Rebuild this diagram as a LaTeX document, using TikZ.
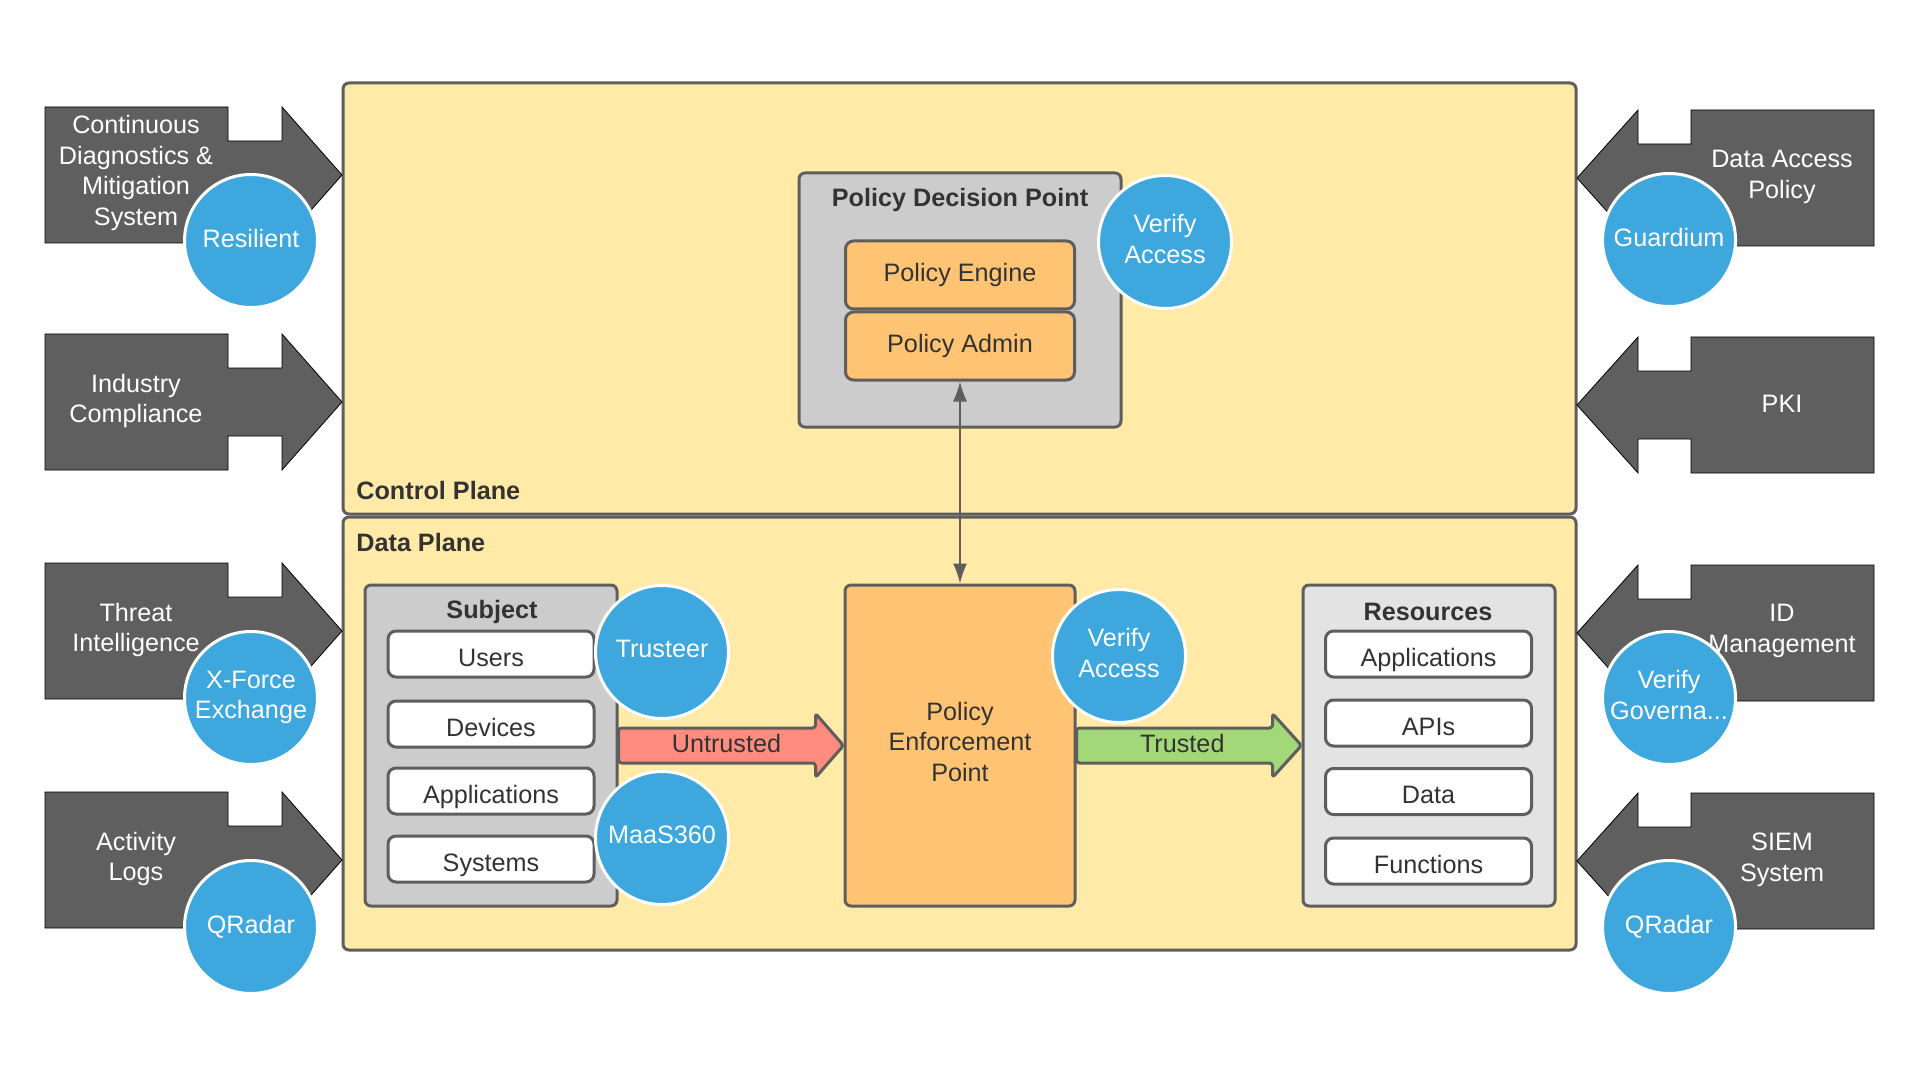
\documentclass[tikz,border=0pt]{standalone}
\usepackage{fontspec}
\setmainfont{Liberation Sans}
\usepackage{tikz}
\usetikzlibrary{arrows.meta}
\usetikzlibrary{calc}

\definecolor{planefill}{HTML}{FFEAA7}
\definecolor{edgegray}{HTML}{5E5E5E}
\definecolor{sidegray}{HTML}{5F5F5F}
\definecolor{toolblue}{HTML}{3DA7DE}
\definecolor{boxgray}{HTML}{CCCCCC}
\definecolor{resgray}{HTML}{E3E3E3}
\definecolor{enginefill}{HTML}{FFC374}
\definecolor{untrustfill}{HTML}{FF8C7E}
\definecolor{trustfill}{HTML}{A2D877}
\definecolor{textgray}{HTML}{333333}

\tikzset{
  basefont/.style={font=\fontsize{12.6}{15.25}\selectfont},
  plane/.style={draw=edgegray,fill=planefill,line width=1.5pt,rounded corners=3pt,inner sep=0pt,minimum width=616.5pt},
  planetitle/.style={font=\fontsize{12.6}{15.25}\selectfont\bfseries,text=textgray,anchor=west,inner sep=0pt},
  groupbox/.style={draw=edgegray,line width=1.5pt,rounded corners=3pt,inner sep=0pt},
  grouptitle/.style={font=\fontsize{12.6}{15.25}\selectfont\bfseries,text=textgray,inner sep=0pt},
  itembox/.style={draw=edgegray,fill=white,line width=1.5pt,rounded corners=4pt,inner sep=0pt,
    minimum width=103pt,minimum height=23pt,basefont,text=textgray,text height=12pt,text depth=0pt},
  enginebox/.style={draw=edgegray,fill=enginefill,line width=1.5pt,rounded corners=4pt,inner sep=0pt,
    minimum width=114.5pt,minimum height=34pt,basefont,text=textgray,align=center},
  sidearrow/.style={fill=sidegray},
  sidetext/.style={basefont,text=white,align=center,inner sep=0pt},
  tool/.style={circle,fill=toolblue,draw=white,line width=1.5pt,minimum size=66.5pt,inner sep=0pt,
    basefont,text=white,align=center,text depth=3pt},
  fatarrow/.style={draw=edgegray,line width=1.5pt,line join=round,rounded corners=1.5pt},
  fattext/.style={basefont,text=textgray,inner sep=0pt,text depth=2.5pt},
  link/.style={{Latex[length=10pt,width=7pt]}-{Latex[length=10pt,width=7pt]},draw=edgegray,line width=0.8pt}
}

\begin{document}
\begin{tikzpicture}[x=0.5pt,y=-0.5pt]
\fill[white] (0,0) rectangle (1920,1080);
\useasboundingbox (0,0) rectangle (1920,1080);

% planes
\node[plane,minimum height=215.5pt] (control) at (959.5,298.5) {};
\node[plane,minimum height=216.5pt] (data) at (959.5,733.5) {};
\node[planetitle] (controllbl) at (356,490) {Control Plane};
\node[planetitle] (datalbl) at (356,542) {Data Plane};

% policy decision point
\node[groupbox,fill=boxgray,minimum width=161pt,minimum height=127pt] (pdp) at (960,300) {};
\node[grouptitle] (pdplbl) at (960,200) {Policy Decision Point};
\node[enginebox] (pengine) at (960,275) {Policy Engine};
\node[enginebox] (padmin) at (960,346) {Policy Admin};

% policy enforcement point
\node[groupbox,fill=enginefill,minimum width=115pt,minimum height=160.5pt,basefont,text=textgray,align=center,text depth=4pt]
  (pep) at (960,745.5) {Policy\\Enforcement\\Point};

% subject
\node[groupbox,fill=boxgray,minimum width=126pt,minimum height=160.5pt] (subject) at (491,745.5) {};
\node[grouptitle] (subjectlbl) at (492,612) {Subject};
\node[itembox] (users) at (491,654) {Users};
\node[itembox] (devices) at (491,724) {Devices};
\node[itembox] (subapps) at (491,791) {Applications};
\node[itembox] (systems) at (491,859) {Systems};

% resources
\node[groupbox,fill=resgray,minimum width=126pt,minimum height=160.5pt] (resources) at (1429,745.5) {};
\node[grouptitle] (resourceslbl) at (1428,612) {Resources};
\node[itembox] (resapps) at (1428.5,654) {Applications};
\node[itembox] (apis) at (1428.5,723) {APIs};
\node[itembox] (resdata) at (1428.5,791.5) {Data};
\node[itembox] (functions) at (1428.5,861) {Functions};

% connectors
\draw[link] (padmin.south) -- (pep.north);
\draw[fatarrow,fill=untrustfill] ($(subject.east)+(0,-17.5)$) -- ($(pep.west)+(-28,-17.5)$) -- ($(pep.west)+(-28,-32)$)
  -- (pep.west) -- ($(pep.west)+(-28,32)$) -- ($(pep.west)+(-28,17.5)$) -- ($(subject.east)+(0,17.5)$) -- cycle;
\node[fattext] (untrustedlbl) at ($(subject.east)!0.48!(pep.west)$) {Untrusted};
\draw[fatarrow,fill=trustfill] ($(pep.east)+(0,-17.5)$) -- ($(resources.west)+(-29,-17.5)$) -- ($(resources.west)+(-29,-32)$)
  -- (resources.west) -- ($(resources.west)+(-29,32)$) -- ($(resources.west)+(-29,17.5)$) -- ($(pep.east)+(0,17.5)$) -- cycle;
\node[fattext] (trustedlbl) at ($(pep.east)!0.47!(resources.west)$) {Trusted};

% left side arrows
\draw[sidearrow] (45,107) -- ++(183,0) -- ++(0,34) -- ++(54,0) -- ++(0,-34) -- ++(60,68) -- ++(-60,68) -- ++(0,-34) -- ++(-54,0) -- ++(0,34) -- ++(-183,0) -- cycle;
\draw[sidearrow] (45,334) -- ++(183,0) -- ++(0,34) -- ++(54,0) -- ++(0,-34) -- ++(60,68) -- ++(-60,68) -- ++(0,-34) -- ++(-54,0) -- ++(0,34) -- ++(-183,0) -- cycle;
\draw[sidearrow] (45,563) -- ++(183,0) -- ++(0,34) -- ++(54,0) -- ++(0,-34) -- ++(60,68) -- ++(-60,68) -- ++(0,-34) -- ++(-54,0) -- ++(0,34) -- ++(-183,0) -- cycle;
\draw[sidearrow] (45,792) -- ++(183,0) -- ++(0,34) -- ++(54,0) -- ++(0,-34) -- ++(60,68) -- ++(-60,68) -- ++(0,-34) -- ++(-54,0) -- ++(0,34) -- ++(-183,0) -- cycle;
\node[sidetext] (cdm) at (136,173) {Continuous\\Diagnostics \&\\Mitigation\\System};
\node[sidetext] (compliance) at (136,401) {Industry\\Compliance};
\node[sidetext] (threat) at (136,630) {Threat\\Intelligence};
\node[sidetext] (actlogs) at (136,859) {Activity\\Logs};

% right side arrows
\draw[sidearrow] (1874,110) -- ++(-183,0) -- ++(0,34) -- ++(-53,0) -- ++(0,-34) -- ++(-61,68) -- ++(61,68) -- ++(0,-34) -- ++(53,0) -- ++(0,34) -- ++(183,0) -- cycle;
\draw[sidearrow] (1874,337) -- ++(-183,0) -- ++(0,34) -- ++(-53,0) -- ++(0,-34) -- ++(-61,68) -- ++(61,68) -- ++(0,-34) -- ++(53,0) -- ++(0,34) -- ++(183,0) -- cycle;
\draw[sidearrow] (1874,565) -- ++(-183,0) -- ++(0,34) -- ++(-53,0) -- ++(0,-34) -- ++(-61,68) -- ++(61,68) -- ++(0,-34) -- ++(53,0) -- ++(0,34) -- ++(183,0) -- cycle;
\draw[sidearrow] (1874,793) -- ++(-183,0) -- ++(0,34) -- ++(-53,0) -- ++(0,-34) -- ++(-61,68) -- ++(61,68) -- ++(0,-34) -- ++(53,0) -- ++(0,34) -- ++(183,0) -- cycle;
\node[sidetext] (dapolicy) at (1782,177) {Data Access\\Policy};
\node[sidetext] (pki) at (1782,404) {PKI};
\node[sidetext] (idmgmt) at (1782,631) {ID\\Management};
\node[sidetext] (siem) at (1782,860) {SIEM\\System};

% tools
\node[tool] (resilient) at (251,241) {Resilient};
\node[tool] (xforce) at (251,698) {X-Force\\Exchange};
\node[tool] (qradarl) at (251,927) {QRadar};
\node[tool] (guardium) at (1669,240) {Guardium};
\node[tool] (governance) at (1669,698) {Verify\\Governa...};
\node[tool] (qradarr) at (1669,927) {QRadar};
\node[tool] (pdpaccess) at (1165,242) {Verify\\Access};
\node[tool] (pepaccess) at (1119,656) {Verify\\Access};
\node[tool] (trusteer) at (662,652) {Trusteer};
\node[tool] (maas) at (662,838) {MaaS360};
\end{tikzpicture}
\end{document}
